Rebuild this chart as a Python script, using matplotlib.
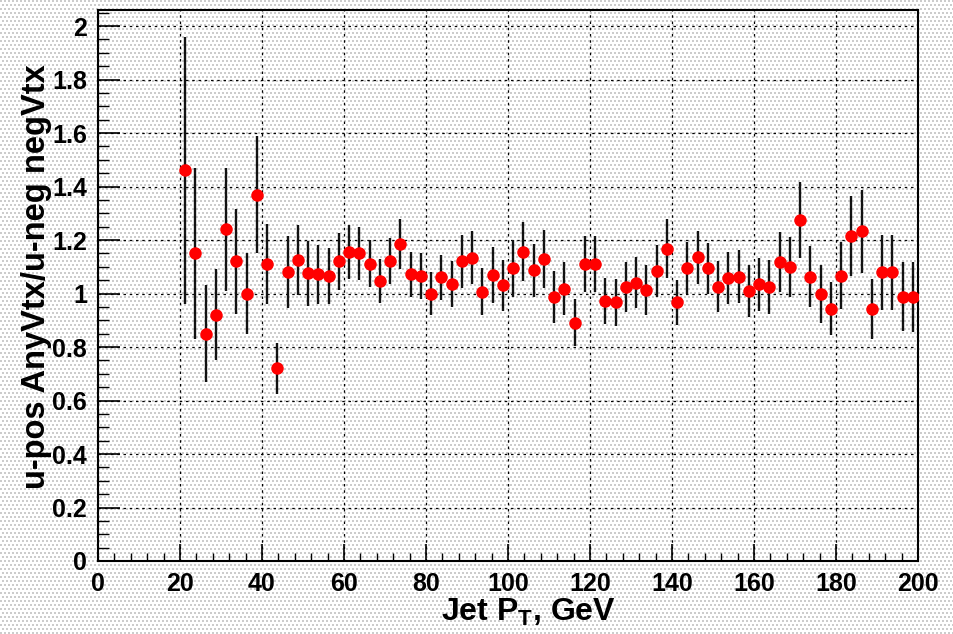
import numpy as np
import matplotlib
matplotlib.use("Agg")
import matplotlib.pyplot as plt
from matplotlib.ticker import MultipleLocator

# ---- data ----
pt_centers = [21.25, 23.75, 26.25, 28.75, 31.25, 33.75, 36.25, 38.75, 41.25, 43.75,
              46.25, 48.75, 51.25, 53.75, 56.25, 58.75, 61.25, 63.75, 66.25, 68.75,
              71.25, 73.75, 76.25, 78.75, 81.25, 83.75, 86.25, 88.75, 91.25, 93.75,
              96.25, 98.75, 101.25, 103.75, 106.25, 108.75, 111.25, 113.75, 116.25, 118.75,
              121.25, 123.75, 126.25, 128.75, 131.25, 133.75, 136.25, 138.75, 141.25, 143.75,
              146.25, 148.75, 151.25, 153.75, 156.25, 158.75, 161.25, 163.75, 166.25, 168.75,
              171.25, 173.75, 176.25, 178.75, 181.25, 183.75, 186.25, 188.75, 191.25, 193.75,
              196.25, 198.75]
ratio = [1.46, 1.15, 0.85, 0.92, 1.24, 1.12, 1.00, 1.37, 1.11, 0.72,
         1.08, 1.125, 1.075, 1.072, 1.065, 1.12, 1.155, 1.15, 1.112, 1.046,
         1.121, 1.185, 1.072, 1.066, 1.00, 1.06, 1.035, 1.12, 1.134, 1.006,
         1.069, 1.03, 1.094, 1.156, 1.087, 1.129, 0.987, 1.018, 0.891, 1.11,
         1.11, 0.972, 0.967, 1.023, 1.04, 1.013, 1.085, 1.168, 0.967, 1.094,
         1.135, 1.094, 1.025, 1.059, 1.063, 1.01, 1.034, 1.025, 1.118, 1.10,
         1.274, 1.063, 0.997, 0.944, 1.066, 1.214, 1.233, 0.941, 1.079, 1.079,
         0.988, 0.988]
ratio_err = [0.50, 0.32, 0.18, 0.17, 0.23, 0.195, 0.15, 0.22, 0.15, 0.095,
             0.135, 0.13, 0.12, 0.11, 0.105, 0.105, 0.10, 0.10, 0.088, 0.082,
             0.087, 0.095, 0.085, 0.085, 0.08, 0.085, 0.086, 0.098, 0.10, 0.088,
             0.105, 0.097, 0.107, 0.11, 0.10, 0.108, 0.097, 0.10, 0.088, 0.104,
             0.104, 0.087, 0.088, 0.093, 0.095, 0.092, 0.097, 0.11, 0.085, 0.097,
             0.10, 0.094, 0.095, 0.098, 0.10, 0.096, 0.098, 0.10, 0.113, 0.113,
             0.143, 0.115, 0.108, 0.10, 0.125, 0.15, 0.155, 0.112, 0.14, 0.14,
             0.128, 0.13]
x_label = r"Jet P$_{\mathrm{T}}$, GeV"
y_label = "u-pos AnyVtx/u-neg negVtx"

# ---- style ----
plt.rcParams["font.family"] = ["Liberation Sans", "DejaVu Sans"]
plt.rcParams["font.weight"] = "bold"
plt.rcParams["mathtext.fontset"] = "custom"
plt.rcParams["mathtext.rm"] = "Liberation Sans:bold"
plt.rcParams["mathtext.it"] = "Liberation Sans:bold"
plt.rcParams["mathtext.bf"] = "Liberation Sans:bold"
plt.rcParams["mathtext.default"] = "rm"

W, H = 954, 634
fig = plt.figure(figsize=(W / 100, H / 100), dpi=100)

# stippled ROOT-like background
yy, xx = np.mgrid[0:H, 0:W]
bg = np.ones((H, W, 3))
mask = ((yy % 4) < 2) & (((xx + 2 * ((yy // 4) % 2)) % 4) < 2)
bg[mask] = 0.80
fig.figimage(bg, xo=0, yo=0, zorder=0)

ax = fig.add_axes([98 / W, 73 / H, 820 / W, 551 / H], zorder=1)
ax.patch.set_alpha(0)

ax.errorbar(pt_centers, ratio, yerr=ratio_err, fmt="o", color="red",
            ecolor="#111111", elinewidth=1.7, capsize=0, markersize=9,
            markeredgewidth=0, zorder=3)

ax.set_xlim(0, 200)
ax.set_ylim(0, 2.06)
ax.xaxis.set_major_locator(MultipleLocator(20))
ax.xaxis.set_minor_locator(MultipleLocator(4))
ax.yaxis.set_major_locator(MultipleLocator(0.2))
ax.yaxis.set_minor_locator(MultipleLocator(0.05))
ax.set_yticks([0, 0.2, 0.4, 0.6, 0.8, 1.0, 1.2, 1.4, 1.6, 1.8, 2.0])
ax.set_yticklabels(["0", "0.2", "0.4", "0.6", "0.8", "1", "1.2", "1.4", "1.6", "1.8", "2"])

ax.set_axisbelow(True)
ax.grid(True, which="major", color="black", linestyle=(0, (2, 3)), linewidth=0.9)

ax.tick_params(axis="y", which="major", direction="in", length=16, width=1.2,
               labelsize=18, pad=8, right=False)
ax.tick_params(axis="y", which="minor", direction="in", length=8, width=1.0, right=False)
ax.tick_params(axis="x", which="major", direction="in", length=12, width=1.2,
               labelsize=18, pad=8, top=False)
ax.tick_params(axis="x", which="minor", direction="in", length=6, width=1.0, top=False)
for s in ax.spines.values():
    s.set_linewidth(1.5)
    s.set_color("black")

fig.text(528 / W, 1 - 612 / H, x_label, ha="center", va="center",
         fontsize=23, fontweight="bold")
fig.text(37 / W, 1 - 277 / H, y_label, ha="center", va="center",
         rotation=90, fontsize=23.5, fontweight="bold")

fig.savefig("out.png", dpi=100)
